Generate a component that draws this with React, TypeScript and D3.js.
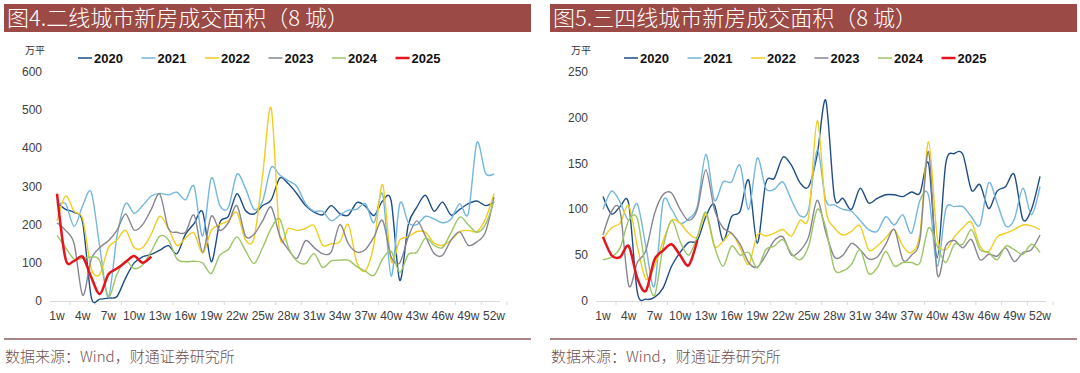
import React from 'react';
import * as d3 from 'd3';

// ---- data (weekly, 万平) ----
const WEEKS = d3.range(1, 53);
const TICK_WEEKS = d3.range(1, 53, 3);
const YEARS = ['2020', '2021', '2022', '2023', '2024', '2025'];
const COLORS = ['#1f4e86', '#73b6de', '#f0cd1f', '#878591', '#9cc567', '#e3141c'];

const L_2020 = [258, 240, 232, 205, 10, 5, 8, 12, 60, 100, 116, 122, 133, 145, 124, 175, 203, 233, 103, 205, 222, 281, 237, 228, 250, 265, 322, 307, 281, 250, 233, 226, 250, 229, 225, 258, 248, 224, 262, 262, 54, 200, 246, 277, 235, 259, 225, 240, 255, 262, 250, 259];
const L_2021 = [250, 255, 195, 250, 285, 140, 10, 170, 255, 230, 250, 275, 282, 278, 285, 265, 300, 170, 322, 250, 245, 332, 295, 240, 262, 350, 330, 315, 300, 255, 235, 235, 210, 225, 238, 240, 255, 205, 280, 65, 255, 205, 200, 222, 215, 205, 215, 255, 229, 415, 335, 333];
const L_2022 = [210, 275, 235, 215, 85, 70, 140, 160, 185, 140, 140, 175, 222, 190, 145, 165, 178, 125, 185, 200, 210, 232, 160, 165, 330, 505, 170, 190, 185, 190, 198, 146, 150, 155, 200, 100, 80, 150, 305, 105, 160, 168, 182, 180, 152, 146, 160, 182, 185, 182, 215, 281];
const L_2023 = [205, 185, 150, 15, 110, 140, 158, 185, 228, 186, 200, 240, 280, 190, 180, 180, 225, 128, 222, 185, 205, 250, 170, 175, 210, 246, 170, 135, 112, 158, 140, 124, 128, 200, 150, 128, 135, 168, 211, 115, 100, 168, 210, 170, 125, 120, 160, 181, 146, 155, 180, 272];
const L_2024 = [172, 140, 110, 112, 115, 105, 12, 70, 105, 85, 95, 130, 170, 160, 110, 103, 104, 100, 72, 120, 135, 168, 132, 98, 140, 190, 215, 140, 105, 98, 124, 88, 105, 107, 107, 90, 78, 67, 110, 130, 75, 122, 128, 165, 146, 140, 180, 220, 200, 180, 200, 262];
const L_2025 = [281, 110, 105, 116, 62, 18, 70, 85, 102, 118, 100, 116];

const R_2020 = [114, 95, 103, 106, 10, 2, 4, 14, 38, 53, 64, 66, 92, 105, 66, 92, 98, 132, 63, 129, 134, 157, 148, 129, 125, 160, 219, 114, 112, 100, 123, 107, 112, 116, 116, 114, 119, 118, 150, 47, 150, 161, 160, 121, 127, 101, 120, 125, 138, 89, 100, 136];
const R_2021 = [100, 120, 108, 88, 106, 60, 16, 108, 100, 85, 90, 103, 160, 110, 130, 130, 148, 100, 156, 123, 122, 130, 110, 93, 100, 165, 110, 105, 100, 98, 88, 78, 76, 92, 83, 94, 74, 110, 115, 38, 100, 103, 103, 92, 83, 129, 107, 82, 89, 123, 94, 125];
const R_2022 = [68, 80, 85, 104, 60, 24, 38, 65, 88, 85, 74, 70, 95, 60, 65, 74, 58, 40, 72, 71, 74, 78, 71, 88, 92, 197, 100, 80, 72, 76, 82, 56, 60, 69, 78, 60, 53, 74, 174, 70, 56, 70, 80, 86, 60, 54, 70, 74, 78, 83, 82, 78];
const R_2023 = [72, 98, 98, 17, 42, 55, 95, 116, 118, 100, 88, 100, 143, 100, 80, 74, 62, 42, 37, 50, 66, 70, 50, 55, 70, 110, 75, 48, 50, 63, 56, 46, 48, 62, 78, 45, 50, 68, 163, 30, 60, 66, 58, 67, 45, 51, 49, 58, 43, 53, 56, 72];
const R_2024 = [45, 48, 58, 88, 90, 35, 6, 58, 88, 65, 50, 70, 97, 60, 38, 60, 50, 53, 36, 56, 60, 67, 52, 45, 60, 100, 80, 35, 33, 40, 56, 30, 36, 54, 38, 42, 42, 42, 80, 60, 42, 62, 62, 78, 56, 53, 45, 60, 56, 51, 62, 53];
const R_2025 = [70, 50, 48, 60, 25, 11, 45, 55, 62, 50, 39, 66];

const LEFT_TITLE = '图4.二线城市新房成交面积（8 城）';
const RIGHT_TITLE = '图5.三四线城市新房成交面积（8 城）';
const LEFT_Y_TICKS = [0, 100, 200, 300, 400, 500, 600];
const RIGHT_Y_TICKS = [0, 50, 100, 150, 200, 250];
const SOURCE = '数据来源：Wind，财通证券研究所';
const UNIT = '万平';

const SANS = "'Liberation Sans', Arial, sans-serif";
const CJK = "'Noto Sans CJK SC', sans-serif";

function Panel({ ox, title, yTicks, series }: { ox: number; title: string; yTicks: number[]; series: number[][] }) {
  const x = d3.scaleLinear().domain([1, 52]).range([57, 494]);
  const y = d3.scaleLinear().domain([0, yTicks[yTicks.length - 1]]).range([301, 72]);
  const line = d3.line<number>()
    .x((_, i) => x(WEEKS[i]))
    .y(d => y(d))
    .curve(d3.curveCardinal.tension(0.1));

  return (
    <g transform={`translate(${ox},0)`}>
      {/* title bar */}
      <rect x={4} y={4} width={527} height={28} fill="#9c4a45" />
      <text x={7} y={26} fill="#fff" fontFamily={CJK} fontSize={22} fontWeight={300}>{title}</text>

      {/* legend */}
      {YEARS.map((yr, i) => (
        <g key={yr} transform={`translate(${78 + i * 63.5},58)`}>
          <line x1={0} x2={14} y1={0} y2={0} stroke={COLORS[i]} strokeWidth={i === 5 ? 2.5 : 1.5} />
          <text x={16} y={5} fontFamily={SANS} fontWeight={700} fontSize={13} fill="#111">{yr}</text>
        </g>
      ))}

      <text x={25} y={54} fontFamily={CJK} fontSize={10} fill="#333">{UNIT}</text>

      {/* y ticks */}
      {yTicks.map(t => (
        <text key={t} x={42} y={y(t) + 4} textAnchor="end" fontFamily={SANS} fontSize={12} fill="#404040">{t}</text>
      ))}

      {/* x axis */}
      <line x1={50} x2={500} y1={301.5} y2={301.5} stroke="#d9d9d9" />
      {TICK_WEEKS.map(w => (
        <g key={w}>
          <line x1={x(w) + 13} x2={x(w) + 13} y1={301.5} y2={305} stroke="#d9d9d9" />
          <text x={x(w)} y={320} textAnchor="middle" fontFamily={SANS} fontSize={12} fill="#404040">{w}w</text>
        </g>
      ))}

      {/* series */}
      {series.map((s, i) => (
        <path key={i} d={line(s) || ''} fill="none" stroke={COLORS[i]} strokeWidth={i === 5 ? 2.5 : 1.4} strokeLinejoin="round" />
      ))}

      {/* source */}
      <line x1={4} x2={531} y1={339} y2={339} stroke="#a88686" strokeWidth={2} />
      <text x={5} y={362} fontFamily={CJK} fontSize={15} fontWeight={300} fill="#6e5050">{SOURCE}</text>
    </g>
  );
}

export default function App() {
  return (
    <svg width={1080} height={373} style={{ position: 'absolute', left: 0, top: 0, background: '#fff' }}>
      <rect width={1080} height={373} fill="#fff" />
      <Panel ox={0} title={LEFT_TITLE} yTicks={LEFT_Y_TICKS} series={[L_2020, L_2021, L_2022, L_2023, L_2024, L_2025]} />
      <Panel ox={546} title={RIGHT_TITLE} yTicks={RIGHT_Y_TICKS} series={[R_2020, R_2021, R_2022, R_2023, R_2024, R_2025]} />
    </svg>
  );
}
